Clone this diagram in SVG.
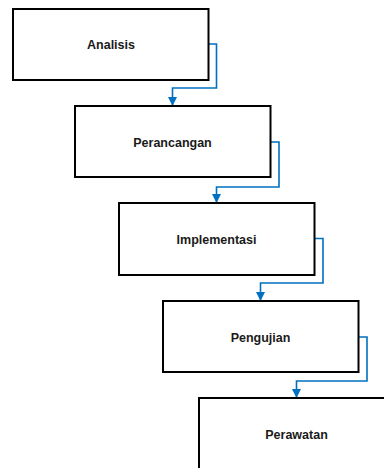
<svg xmlns="http://www.w3.org/2000/svg" width="384" height="468" viewBox="0 0 384 468">
<style>
.box{fill:#ffffff;stroke:#000000;stroke-width:2}
.lbl{font-family:"Liberation Sans",Arial,sans-serif;font-weight:bold;font-size:12.5px;fill:#1a1a1a;text-anchor:middle}
.con{fill:none;stroke:#0070C0;stroke-width:1.6;marker-end:url(#arr)}
</style>
<defs>
<marker id="arr" viewBox="0 0 10 10" refX="10" refY="5" markerWidth="9" markerHeight="9" markerUnits="userSpaceOnUse" orient="auto">
<path d="M0,0 L10,5 L0,10 Z" fill="#0070C0"/>
</marker>
</defs>
<rect width="384" height="468" fill="#ffffff"/>
<g id="connectors">
<path class="con" d="M208.5,44 H216.5 V88 H172.5 V106"/>
<path class="con" d="M270.5,142 H279 V187 H216.5 V203"/>
<path class="con" d="M314.5,238.5 H323 V283 H260.5 V301"/>
<path class="con" d="M358.5,337 H367 V381 H296.5 V398"/>
</g>
<g id="analisis">
<rect class="box" x="13" y="9" width="195.5" height="71"/>
<text class="lbl" x="111" y="49">Analisis</text>
</g>
<g id="perancangan">
<rect class="box" x="75" y="106" width="195.5" height="71"/>
<text class="lbl" x="172.5" y="146.5">Perancangan</text>
</g>
<g id="implementasi">
<rect class="box" x="119" y="203" width="195.5" height="72"/>
<text class="lbl" x="216.5" y="243.5">Implementasi</text>
</g>
<g id="pengujian">
<rect class="box" x="163" y="301" width="195.5" height="71"/>
<text class="lbl" x="260.5" y="341.5">Pengujian</text>
</g>
<g id="perawatan">
<rect class="box" x="199" y="398" width="195.5" height="72"/>
<text class="lbl" x="296.5" y="438.5">Perawatan</text>
</g>
</svg>
